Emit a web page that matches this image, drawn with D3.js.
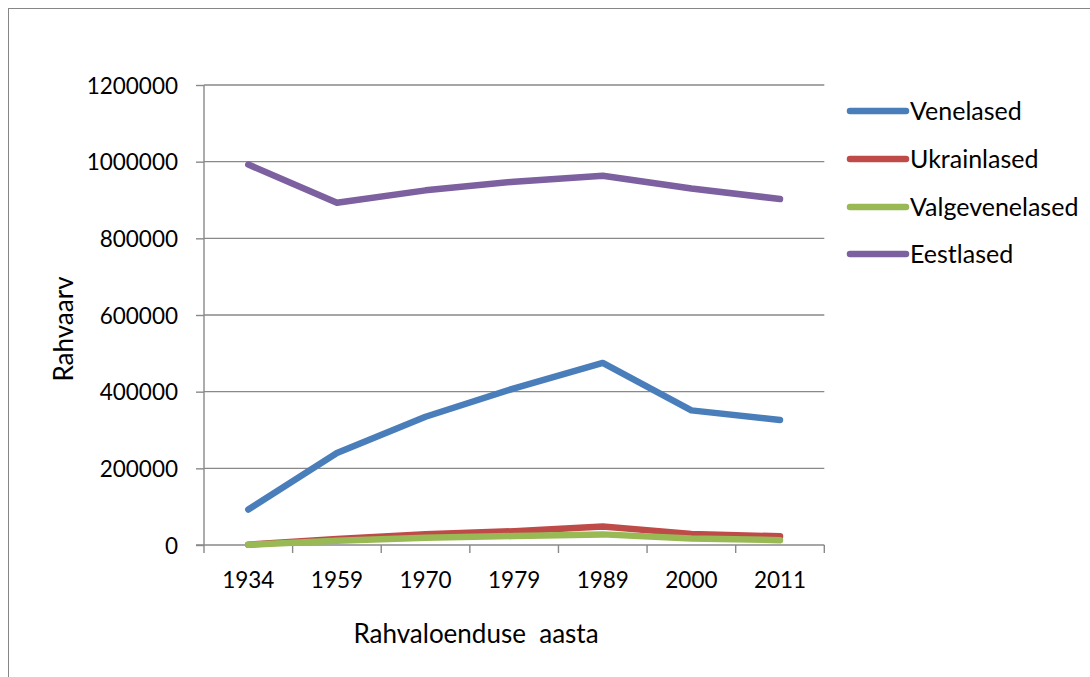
<!DOCTYPE html>
<html><head><meta charset="utf-8">
<script src="https://cdn.jsdelivr.net/npm/d3@7"></script>
<style>body{margin:0;background:#fff}svg{display:block}text{font-family:Lato,"Open Sans",sans-serif;fill:#000}</style>
</head><body><svg id="c" width="1090" height="677"></svg>
<script>
const years = ["1934","1959","1970","1979","1989","2000","2011"];
const seriesNames = ["Venelased","Ukrainlased","Valgevenelased","Eestlased"];
const venelased = [92656,240227,334620,408778,474834,351178,326235];
const ukrainlased = [700,15769,28086,36044,48271,29012,22573];
const valgevenelased = [500,10930,18732,23461,27711,17241,12579];
const eestlased = [992520,892653,925157,947812,963281,930219,902547];
const yTicks = [0,200000,400000,600000,800000,1000000,1200000];
const colors = ["#4A7EBB","#BE4B48","#98B954","#7D60A0"];
const values = [venelased, ukrainlased, valgevenelased, eestlased];

const svg = d3.select("#c");
const L=204, R=824.3, T=85, B=545;
svg.append("rect").attr("x",8.5).attr("y",8.5).attr("width",1200).attr("height",800)
  .attr("fill","none").attr("stroke","#868686").attr("stroke-width",1);

const x = d3.scaleBand().domain(years).range([L,R]).paddingInner(0).paddingOuter(0);
const y = d3.scaleLinear().domain([0,1200000]).range([B,T]);

svg.append("g").selectAll("line").data(yTicks.filter(d=>d>0)).join("line")
  .attr("x1",L).attr("x2",R).attr("y1",d=>y(d)).attr("y2",d=>y(d))
  .attr("stroke","#898989").attr("stroke-width",1.4);

const ya = svg.append("g").attr("transform",`translate(${L},0)`)
  .call(d3.axisLeft(y).tickValues(yTicks).tickSize(8).tickPadding(18).tickFormat(d=>String(d)));
ya.select(".domain").attr("stroke","#898989").attr("stroke-width",1.4).attr("d",`M0,${T}V${B}`);
ya.selectAll(".tick line").attr("stroke","#898989").attr("stroke-width",1.4);
ya.selectAll("text").style("font-size","22.5px").attr("dy","0.36em").attr("x",-26);

const xa = svg.append("g").attr("transform",`translate(0,${B})`)
  .call(d3.axisBottom(x).tickSize(0).tickPadding(0));
xa.select(".domain").attr("stroke","#898989").attr("stroke-width",1.4).attr("d",`M${L-8},0H${R}`);
xa.selectAll("text").style("font-size","22.5px").attr("y",43).attr("dy",0);
const bounds = years.map(d=>x(d)).concat([R]);
svg.append("g").selectAll("line").data(bounds).join("line")
  .attr("x1",d=>d).attr("x2",d=>d).attr("y1",B).attr("y2",B+8)
  .attr("stroke","#898989").attr("stroke-width",1.4);

const line = d3.line().x((d,i)=>x(years[i])+x.bandwidth()/2).y(d=>y(d));
values.forEach((v,k)=>{
  svg.append("path").attr("d",line(v)).attr("fill","none").attr("stroke",colors[k])
    .attr("stroke-width",6.5).attr("stroke-linecap","round").attr("stroke-linejoin","round");
});

const lg = svg.append("g");
const ly = [111,159,207,254];
seriesNames.forEach((n,k)=>{
  lg.append("line").attr("x1",850).attr("x2",906).attr("y1",ly[k]).attr("y2",ly[k])
    .attr("stroke",colors[k]).attr("stroke-width",6.5).attr("stroke-linecap","round");
  lg.append("text").attr("x",910).attr("y",ly[k]).attr("dy","0.36em").style("font-size","25px").text(n);
});

svg.append("text").attr("transform","translate(73,329) rotate(-90)").attr("text-anchor","middle")
  .style("font-size","26px").text("Rahvaarv");
svg.append("text").attr("x",476).attr("y",643).attr("text-anchor","middle")
  .style("font-size","26px").style("white-space","pre").attr("xml:space","preserve").text("Rahvaloenduse  aasta");
</script></body></html>
